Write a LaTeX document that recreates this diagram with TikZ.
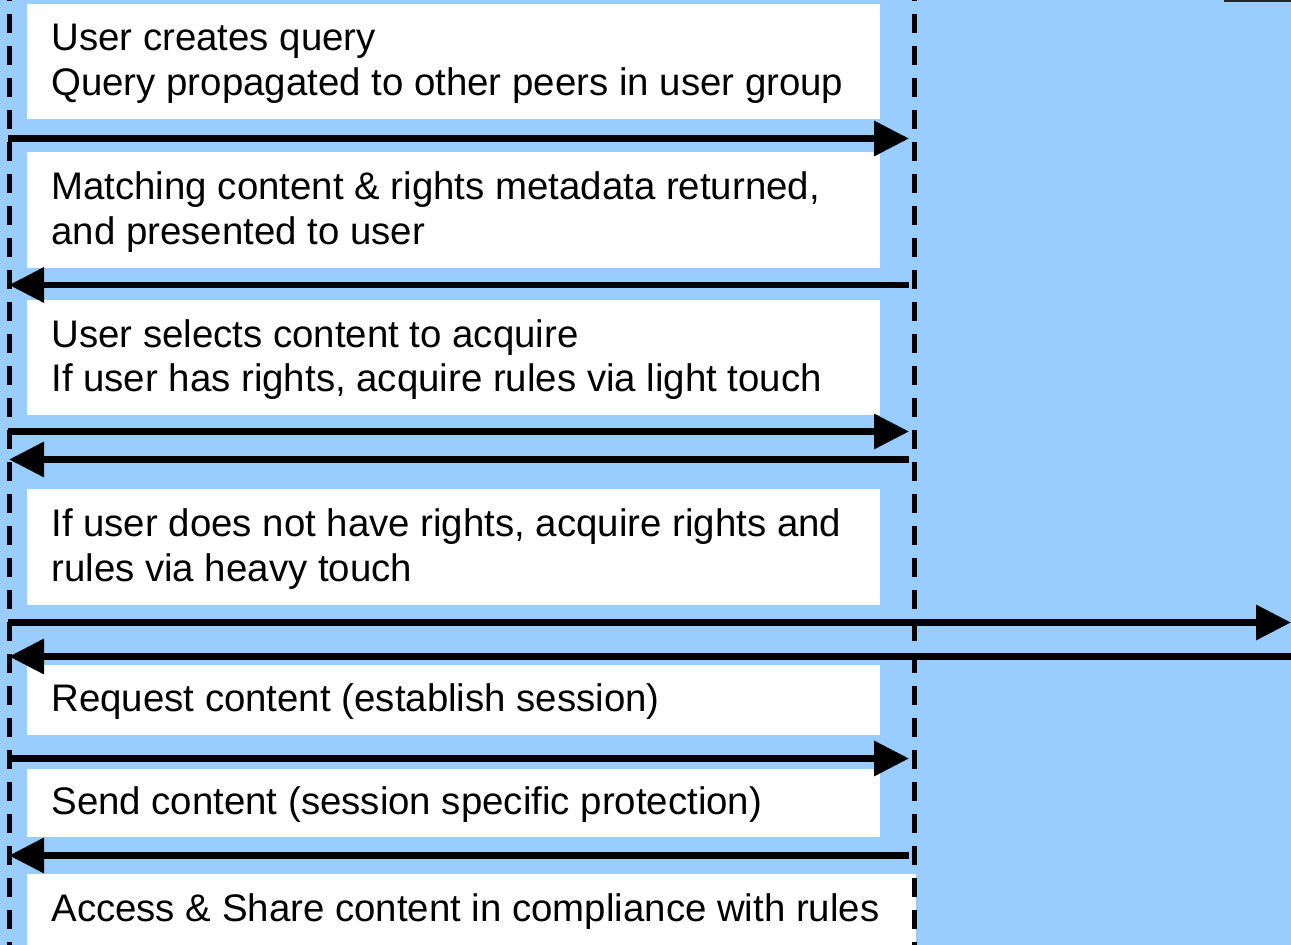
\documentclass[tikz,border=0pt]{standalone}
\usepackage{fontspec}
\setmainfont{Liberation Sans}
\usetikzlibrary{arrows.meta}
\definecolor{bgblue}{HTML}{99CCFF}
\newcommand{\msgfont}{\fontsize{19.2pt}{22.3pt}\selectfont}
\tikzset{
  msgbox/.style={fill=white, draw=none, anchor=north west, inner sep=0pt,
    outer sep=0pt, minimum width=426.5pt},
  msgtext/.style={anchor=west, align=left, font=\msgfont, inner sep=0pt, yshift=-1pt},
  lifeline/.style={line width=2.5pt, dash pattern=on 9.5pt off 6.5pt, dash phase=9pt},
  msg/.style={line width=3.3pt, -{Triangle[length=17.5pt,width=17pt]}}
}
\begin{document}
\begin{tikzpicture}[x=0.5pt,y=-0.5pt]
\useasboundingbox (0,0) rectangle (1291,945);
\fill[bgblue] (0,0) rectangle (1291,945);
\draw[line width=0.8pt, black!85] (1224,0.75) -- (1291,0.75);

% message boxes
\node[msgbox, minimum height=57.5pt] (b1) at (27,4) {};
\node[msgbox, minimum height=58pt] (b2) at (27,152) {};
\node[msgbox, minimum height=57.75pt] (b3) at (27,300) {};
\node[msgbox, minimum height=58pt] (b4) at (27,489) {};
\node[msgbox, minimum height=35pt] (b5) at (27,665) {};
\node[msgbox, minimum height=34pt] (b6) at (27,769) {};
\node[msgbox, minimum height=36pt, minimum width=444.5pt] (b7) at (27,874) {};

% message texts
\node[msgtext] (t1) at ([xshift=12pt]b1.west) {User creates query\\Query propagated to other peers in user group};
\node[msgtext] (t2) at ([xshift=12pt]b2.west) {Matching content \& rights metadata returned,\\and presented to user};
\node[msgtext] (t3) at ([xshift=12pt]b3.west) {User selects content to acquire\\If user has rights, acquire rules via light touch};
\node[msgtext] (t4) at ([xshift=12pt]b4.west) {If user does not have rights, acquire rights and\\rules via heavy touch};
\node[msgtext] (t5) at ([xshift=12pt]b5.west) {Request content (establish session)};
\node[msgtext] (t6) at ([xshift=12pt]b6.west) {Send content (session specific protection)};
\node[msgtext] (t7) at ([xshift=12pt]b7.west) {Access \& Share content in compliance with rules};

% lifelines
\coordinate (lt) at (9.5,0);
\coordinate (lb) at (9.5,945);
\coordinate (rt) at (914.5,0);
\coordinate (rb) at (914.5,945);
\draw[lifeline] (lt) -- (lb);
\draw[lifeline] (rt) -- (rb);

% message endpoints
\coordinate (a1s) at (8,138.5);   \coordinate (a1e) at (909,138.5);
\coordinate (a2s) at (909,285);   \coordinate (a2e) at (9,285);
\coordinate (a3s) at (8,431.5);   \coordinate (a3e) at (909,431.5);
\coordinate (a4s) at (909,459.5); \coordinate (a4e) at (9,459.5);
\coordinate (a5s) at (8,622.5);   \coordinate (a5e) at (1291,622.5);
\coordinate (a6s) at (1291,656.5);\coordinate (a6e) at (9,656.5);
\coordinate (a7s) at (8,758.5);   \coordinate (a7e) at (909,758.5);
\coordinate (a8s) at (909,855.5); \coordinate (a8e) at (9,855.5);

\draw[msg] (a1s) -- (a1e);
\draw[msg] (a2s) -- (a2e);
\draw[msg] (a3s) -- (a3e);
\draw[msg] (a4s) -- (a4e);
\draw[msg] (a5s) -- (a5e);
\draw[msg] (a6s) -- (a6e);
\draw[msg] (a7s) -- (a7e);
\draw[msg] (a8s) -- (a8e);
\end{tikzpicture}
\end{document}
